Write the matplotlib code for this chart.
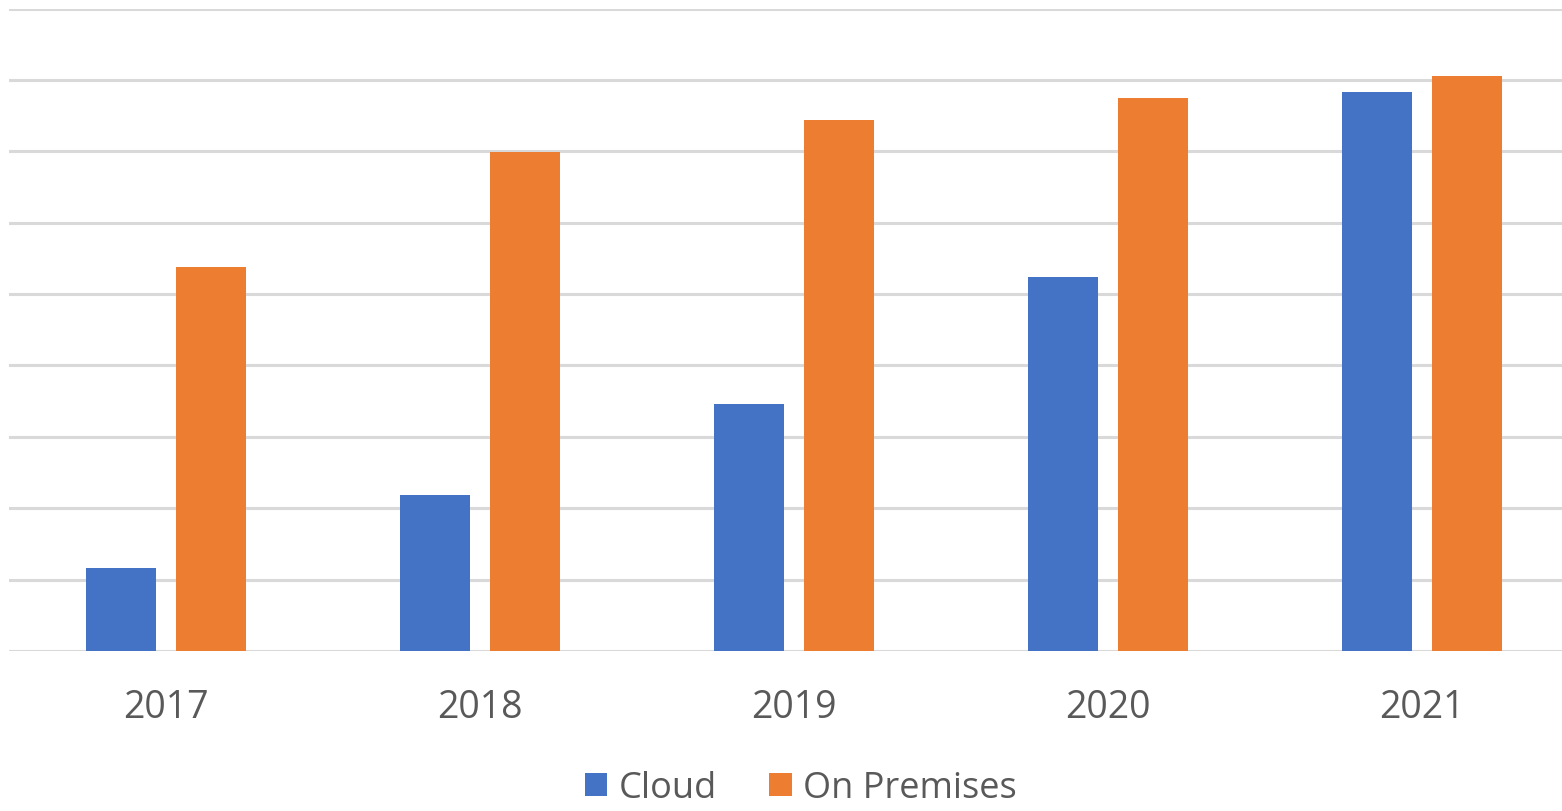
import numpy as np
import matplotlib.pyplot as plt

years = ["2017", "2018", "2019", "2020", "2021"]
cloud = [1.16, 2.18, 3.46, 5.24, 7.83]
on_premises = [5.38, 6.99, 7.44, 7.75, 8.05]

BLUE = "#4472C4"
ORANGE = "#ED7D31"
GRID = "#D9D9D9"
TEXT = "#595959"

plt.rcParams["font.family"] = ["Open Sans", "DejaVu Sans"]

W, H = 1562, 812
fig = plt.figure(figsize=(W / 100, H / 100), dpi=100)
ax = fig.add_axes([9 / W, (H - 652) / H, (1579 - 9) / W, (652 - 9.5) / H])

x = np.arange(len(years))
bw = 0.223
off = 0.144
ax.bar(x - off, cloud, bw, color=BLUE, label="Cloud", zorder=3)
ax.bar(x + off, on_premises, bw, color=ORANGE, label="On Premises", zorder=3)

ax.set_xlim(-0.5, len(years) - 0.5)
ax.set_ylim(0, 9)
ax.set_yticks(np.arange(0, 10))
ax.yaxis.grid(True, color=GRID, linewidth=2.2, zorder=0)
ax.set_axisbelow(True)
for s in ax.spines.values():
    s.set_visible(False)
ax.tick_params(axis="y", left=False, labelleft=False)
ax.set_xticks(x)
ax.set_xticklabels(years)
ax.tick_params(axis="x", length=0, pad=27, labelsize=27, labelcolor=TEXT)

# legend sits at the very bottom edge, as in the reference
fig.legend(loc="center", bbox_to_anchor=(801 / W, (H - 789) / H), ncol=2,
           frameon=False, fontsize=26, labelcolor=TEXT,
           handlelength=0.62, handleheight=0.62, handletextpad=0.32,
           columnspacing=1.45, borderpad=0, borderaxespad=0)

fig.savefig("out.png", dpi=100)
